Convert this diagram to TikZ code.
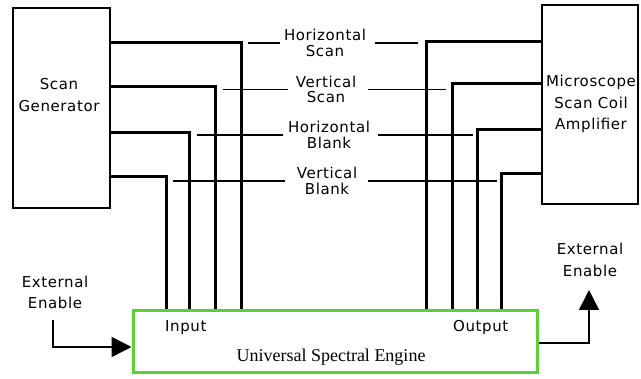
\documentclass[tikz,border=0pt]{standalone}
\usepackage{fontspec}
\usetikzlibrary{arrows.meta}
\newfontfamily\genevafont{DejaVu Sans}[LetterSpace=4]
\newfontfamily\nyfont{Liberation Serif}
\definecolor{usegreen}{RGB}{92,208,52}
\begin{document}
\begin{tikzpicture}[x=1pt,y=-1pt,
  box/.style={draw,line width=1.6pt,inner sep=0pt},
  lbl/.style={font=\genevafont\fontsize{15}{15.5}\selectfont,align=center,inner sep=3pt},
  boxlbl/.style={font=\genevafont\fontsize{15}{21.5}\selectfont,align=center,inner sep=0pt},
  sig/.style={line width=3pt},
  lead/.style={line width=1.3pt},
  tip/.style={line width=1.5pt,-{Triangle[length=20pt,width=20pt]}}]
\useasboundingbox (0,0) rectangle (641,379);
\fill[white] (0,0) rectangle (641,379);
% boxes
\node[box,minimum width=97pt,minimum height=200pt] (gen) at (61.5,108) {};
\node[box,minimum width=96pt,minimum height=199pt] (amp) at (590,104.5) {};
\node[draw=usegreen,line width=3pt,inner sep=0pt,minimum width=404pt,minimum height=62pt] (use) at (335,342) {};
% box texts
\node[boxlbl] (gent) at (59,95) {Scan\\Generator};
\node[boxlbl] (ampt) at (591,104) {Microscope\\Scan Coil\\Amplifier};
\node[lbl,anchor=base west,inner sep=0pt] (inp) at (165,332) {Input};
\node[lbl,anchor=base west,inner sep=0pt] (outp) at (453,332) {Output};
\node[anchor=base,inner sep=0pt,font=\nyfont\fontsize{18}{20}\selectfont] (uset) at (331,362) {Universal Spectral Engine};
% signal lines
\draw[sig] (gen.east |- 0,43) -| (use.north -| 241,0);
\draw[sig] (gen.east |- 0,87) -| (use.north -| 215,0);
\draw[sig] (gen.east |- 0,133) -| (use.north -| 189,0);
\draw[sig] (gen.east |- 0,177) -| (use.north -| 166,0);
\draw[sig] (amp.west |- 0,42) -| (use.north -| 426,0);
\draw[sig] (amp.west |- 0,84) -| (use.north -| 452,0);
\draw[sig] (amp.west |- 0,130) -| (use.north -| 477,0);
\draw[sig] (amp.west |- 0,174) -| (use.north -| 501,0);
% labels
\node[lbl] (hs) at (325,43) {Horizontal\\Scan};
\node[lbl] (vs) at (326,89.5) {Vertical\\Scan};
\node[lbl] (hb) at (329,135) {Horizontal\\Blank};
\node[lbl] (vb) at (327,181) {Vertical\\Blank};
\draw[lead] (hs.west -| 280,0) -- (hs.west -| 248,0);
\draw[lead] (hs.east -| 375,0) -- (hs.east -| 418,0);
\draw[lead] (vs.west -| 288,0) -- (vs.west -| 223,0);
\draw[lead] (vs.east -| 368,0) -- (vs.east -| 446,0);
\draw[lead] (hb.west -| 283,0) -- (hb.west -| 197,0);
\draw[lead] (hb.east -| 378,0) -- (hb.east -| 473,0);
\draw[lead] (vb.west -| 285,0) -- (vb.west -| 173,0);
\draw[lead] (vb.east -| 368,0) -- (vb.east -| 497,0);
% external enables
\node[boxlbl] (eel) at (55,292.5) {External\\Enable};
\node[boxlbl] (eer) at (590,260) {External\\Enable};
\coordinate (elstart) at (53,320);
\draw[tip] (elstart) |- (use.west |- 0,347);
\coordinate (erend) at (589,290);
\draw[tip] (use.east |- 0,343) -| (erend);
\end{tikzpicture}
\end{document}
